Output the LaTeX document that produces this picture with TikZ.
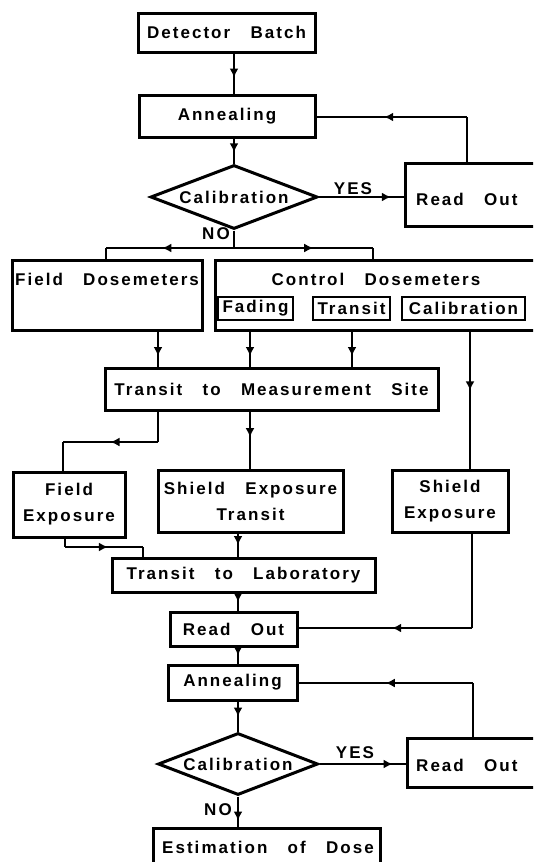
\documentclass[tikz,border=0pt]{standalone}
\usepackage{fontspec}
\setmainfont{Liberation Sans}[LetterSpace=12,WordSpace=3]
\usetikzlibrary{arrows.meta,decorations.markings,shapes.geometric}
\begin{document}
\begin{tikzpicture}[x=1pt,y=-1pt,
  every node/.style={font=\fontsize{17}{19}\selectfont\bfseries},
  box/.style={draw,line width=3pt,rectangle,inner sep=0pt},
  sbox/.style={draw,line width=1.6pt,rectangle,inner sep=0pt,minimum height=23pt},
  dia/.style={draw,line width=3pt,diamond,aspect=2.6,inner sep=0pt},
  conn/.style={line width=2.6pt},
  marr/.style={postaction={decorate,decoration={markings,mark=at position #1 with {\arrow{Latex[length=9pt,width=9pt]}}}}},
  lbl/.style={inner sep=0pt}
]
\useasboundingbox (0,0) rectangle (533,862);
\fill[white] (0,0) rectangle (533,862);
\begin{scope}
\clip (0,0) rectangle (533,862);
% nodes
\node[box,minimum width=177pt,minimum height=39pt] (det) at (226.5,32.5) {Detector Batch};
\node[box,minimum width=176pt,minimum height=42pt] (ann1) at (227,116) {Annealing};
\node[dia,minimum width=167pt,minimum height=64pt] (cal1) at (234,197) {Calibration};
\node[box,minimum width=155pt,minimum height=63pt] (ro1) at (482.5,194.5) {};
\node[lbl,anchor=west] (ro1t) at (416,199) {Read Out};
\node[box,minimum width=190pt,minimum height=70pt] (fd) at (107,295) {};
\node[lbl] (fdt) at (107,279) {Field Dosemeters};
\node[box,minimum width=345pt,minimum height=70pt] (cd) at (387.5,295) {};
\node[lbl] (cdt) at (376,279) {Control Dosemeters};
\node[sbox,minimum width=75pt] (fad) at (255.5,308.5) {Fading};
\node[sbox,minimum width=77pt] (tra) at (351.5,308.5) {Transit};
\node[sbox,minimum width=123pt] (calb) at (463.5,308.5) {Calibration};
\node[box,minimum width=333pt,minimum height=42pt] (tms) at (271.5,389) {Transit to Measurement Site};
\node[box,minimum width=112pt,minimum height=65pt,align=center] (fe) at (69,504.5) {Field\\[7pt]Exposure};
\node[box,minimum width=185pt,minimum height=62pt,align=center] (set) at (250.5,501) {Shield Exposure\\[7pt]Transit};
\node[box,minimum width=116pt,minimum height=62pt,align=center] (se) at (450,501) {Shield\\[7pt]Exposure};
\node[box,minimum width=263pt,minimum height=34pt] (tl) at (243.5,575) {Transit to Laboratory};
\node[box,minimum width=127pt,minimum height=34pt] (ro2) at (233.5,629) {Read Out};
\node[box,minimum width=129pt,minimum height=35pt] (ann2) at (232.5,682.5) {Annealing};
\node[dia,minimum width=160pt,minimum height=62pt] (cal2) at (238,764) {Calibration};
\node[box,minimum width=153pt,minimum height=49pt] (ro3) at (483.5,762.5) {};
\node[lbl,anchor=west] (ro3t) at (416,765) {Read Out};
\node[box,minimum width=227pt,minimum height=72pt] (est) at (266.5,864) {};
\node[lbl] (estt) at (268,847) {Estimation of Dose};
% connectors top
\draw[conn,marr=0.6] (det.south -| cal1) -- (ann1.north -| cal1);
\draw[conn,marr=0.55] (ann1.south -| cal1) -- (cal1.north);
\draw[conn,marr=0.85] (cal1.east) -- (cal1.east -| ro1.west);
\node[lbl] (yes1) at (353,189) {YES};
\coordinate (k1) at (467,117);
\draw[conn] (k1 |- ro1.north) -- (k1);
\draw[conn,marr=0.55] (k1) -- (k1 -| ann1.east);
\coordinate (s1) at (234,248);
\coordinate (nl) at (106,248);
\coordinate (nr) at (373,248);
\draw[conn] (cal1.south) -- (s1);
\draw[conn,marr=0.56] (s1) -- (nl);
\draw[conn] (nl) -- (nl |- fd.north);
\draw[conn,marr=0.57] (s1) -- (nr);
\draw[conn] (nr) -- (nr |- cd.north);
\node[lbl] (no1) at (216,234) {NO};
% middle
\coordinate (xa) at (158,0);
\coordinate (xb) at (250,0);
\coordinate (xc) at (352,0);
\coordinate (xd) at (470,0);
\draw[conn,marr=0.7] (fd.south -| xa) -- (tms.north -| xa);
\draw[conn,marr=0.7] (cd.south -| xb) -- (tms.north -| xb);
\draw[conn,marr=0.7] (cd.south -| xc) -- (tms.north -| xc);
\draw[conn,marr=0.43] (cd.south -| xd) -- (se.north -| xd);
\coordinate (k2) at (158,442);
\coordinate (k3) at (63,442);
\draw[conn] (tms.south -| k2) -- (k2);
\draw[conn,marr=0.5] (k2) -- (k3);
\draw[conn] (k3) -- (k3 |- fe.north);
\draw[conn,marr=0.45] (tms.south -| xb) -- (set.north -| xb);
\coordinate (k4) at (65,547);
\coordinate (k5) at (143,547);
\draw[conn] (fe.south -| k4) -- (k4);
\draw[conn,marr=0.55] (k4) -- (k5);
\draw[conn] (k5) -- (k5 |- tl.north);
\coordinate (xe) at (238,0);
\draw[conn,marr=0.5] (set.south -| xe) -- (tl.north -| xe);
\draw[conn,marr=0.5] (tl.south -| xe) -- (ro2.north -| xe);
\coordinate (k6) at (472,628);
\draw[conn] (se.south -| k6) -- (k6);
\draw[conn,marr=0.46] (k6) -- (k6 -| ro2.east);
% bottom
\draw[conn,marr=0.5] (ro2.south -| xe) -- (ann2.north -| xe);
\draw[conn,marr=0.5] (ann2.south -| xe) -- (cal2.north);
\draw[conn,marr=0.85] (cal2.east) -- (cal2.east -| ro3.west);
\node[lbl] (yes2) at (355,753) {YES};
\coordinate (k7) at (473,683);
\draw[conn] (k7 |- ro3.north) -- (k7);
\draw[conn,marr=0.5] (k7) -- (k7 -| ann2.east);
\draw[conn,marr=0.8] (cal2.south) -- (cal2.south |- est.north);
\node[lbl] (no2) at (218,810) {NO};
\end{scope}
\end{tikzpicture}
\end{document}
